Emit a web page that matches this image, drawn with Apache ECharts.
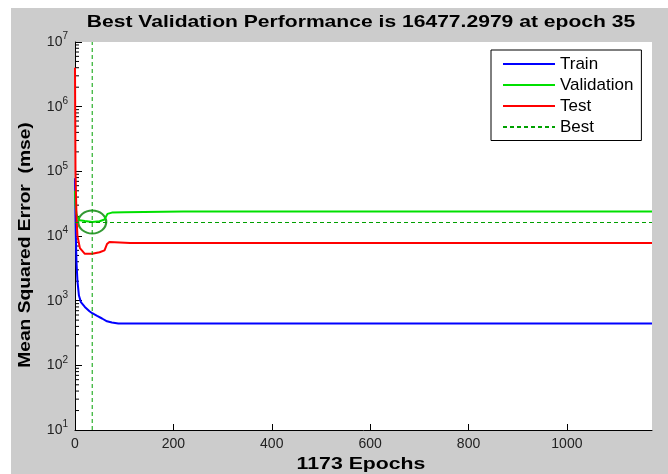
<!DOCTYPE html>
<html>
<head>
<meta charset="utf-8">
<script src="https://cdn.jsdelivr.net/npm/echarts@6/dist/echarts.min.js"></script>
<style>
  html, body { margin: 0; padding: 0; background: #fff; }
  #chart { position: absolute; left: 11px; top: 8px; width: 657px; height: 466px; background: #cccccc; }
</style>
</head>
<body>
<div id="chart"></div>
<script>
// training record
const trainEpochs = [0, 1, 2, 3, 5, 8, 12, 20, 30, 35, 45, 55, 65, 75, 88, 1173];
const trainMse = [78000, 20000, 8000, 4000, 2000, 1200, 950, 800, 680, 640, 580, 530, 480, 460, 445, 442];

const valEpochs = [0, 1, 3, 6, 10, 20, 35, 50, 60, 66, 75, 100, 220, 1173];
const valMse = [50000, 30000, 22000, 19000, 17500, 17000, 16477.2979, 16900, 18000, 22000, 23000, 23200, 24000, 24000];

const testEpochs = [0, 1, 3, 5, 10, 20, 35, 50, 60, 65, 70, 112, 1173];
const testMse = [4000000, 100000, 20000, 10000, 6500, 5300, 5300, 5600, 6000, 7500, 8100, 7800, 7800];

const bestEpoch = 35;
const bestValue = 16477.2979;
const totalEpochs = 1173;

const yMin = 10, yMax = 1e7;
const xTicks = 200;

function pairs(xs, ys) { return xs.map((x, i) => [x, ys[i]]); }

// log minor ticks 2..9 per decade
const minorTicks = [];
for (let e = 1; e < 7; e++) {
  for (let m = 2; m <= 9; m++) minorTicks.push([0, m * Math.pow(10, e)]);
}

const font = "'Liberation Sans', Arial, sans-serif";
const chart = echarts.init(document.getElementById('chart'));

// the original text is wider than Arial, so stretch it a bit
function label(text, x, y, size, sx, rot) {
  return {
    type: 'text', x: x, y: y, rotation: rot || 0, scaleX: sx, silent: true,
    style: { text: text, font: 'bold ' + size + 'px ' + font, fill: '#000',
      align: 'center', verticalAlign: 'middle' }
  };
}

chart.setOption({
  animation: false,
  textStyle: { fontFamily: font },
  grid: { left: 64, top: 34, right: 16, bottom: 44, show: true, backgroundColor: '#fff', borderWidth: 0 },
  graphic: [
    label('Best Validation Performance is ' + bestValue.toFixed(4) + ' at epoch ' + bestEpoch, 350, 14, 17, 1.24),
    label(totalEpochs + ' Epochs', 350, 456, 17, 1.25),
    label('Mean Squared Error  (mse)', 14, 237, 17, 1.13, Math.PI / 2)
  ],
  legend: {
    data: ['Train', 'Validation', 'Test', 'Best'],
    orient: 'vertical', left: 480, top: 42,
    itemWidth: 52, itemHeight: 14, itemGap: 4,
    padding: [5.5, 8, 5, 11],
    borderColor: '#000', borderWidth: 1, backgroundColor: '#fff', borderRadius: 0,
    selectedMode: false,
    itemStyle: { opacity: 0 },
    textStyle: { fontSize: 17, lineHeight: 17, color: '#000', fontFamily: font }
  },
  xAxis: {
    type: 'value', min: 0, max: totalEpochs, interval: xTicks,
    axisLine: { lineStyle: { color: '#000', width: 1 } },
    axisTick: { inside: true, length: 6, lineStyle: { color: '#000' } },
    axisLabel: { fontSize: 14, color: '#222', margin: 7, showMaxLabel: false, formatter: v => String(v) },
    splitLine: { show: false }
  },
  yAxis: {
    type: 'log', logBase: 10, min: yMin, max: yMax,
    axisLine: { lineStyle: { color: '#000', width: 1 } },
    axisTick: { inside: true, length: 7, lineStyle: { color: '#000' } },
    axisLabel: {
      margin: 7, color: '#222',
      formatter: v => '{b|10}{s|' + Math.round(Math.log10(v)) + '}',
      rich: {
        b: { fontSize: 14, color: '#222', fontFamily: font },
        s: { fontSize: 10, color: '#222', fontFamily: font, padding: [0, 0, 11, 0] }
      }
    },
    splitLine: { show: false }
  },
  series: [
    {
      name: 'Train', type: 'line', data: pairs(trainEpochs, trainMse),
      showSymbol: false, symbol: 'none', color: '#0000ff', lineStyle: { width: 2 }
    },
    {
      name: 'Validation', type: 'line', data: pairs(valEpochs, valMse),
      showSymbol: false, symbol: 'none', color: '#00e000', lineStyle: { width: 2 }
    },
    {
      name: 'Test', type: 'line', data: pairs(testEpochs, testMse),
      showSymbol: false, symbol: 'none', color: '#ff0000', lineStyle: { width: 2 }
    },
    {
      name: 'Best', type: 'line', data: [[bestEpoch, yMin], [bestEpoch, yMax]],
      showSymbol: false, symbol: 'none', color: '#00a000',
      lineStyle: { width: 1, type: [4, 3] },
      markLine: {
        silent: true, symbol: 'none', label: { show: false },
        lineStyle: { color: '#00a000', width: 1, type: [4, 3] },
        data: [{ yAxis: bestValue }]
      }
    },
    {
      name: 'circle', type: 'scatter', data: [[bestEpoch, bestValue]],
      symbol: 'circle', symbolSize: [28, 23],
      itemStyle: { color: 'rgba(0,0,0,0)', borderColor: '#008000', borderWidth: 2 },
      silent: true
    },
    {
      name: 'minor', type: 'custom', data: minorTicks, silent: true, clip: false,
      renderItem: (params, api) => {
        const p = api.coord([api.value(0), api.value(1)]);
        return { type: 'line', shape: { x1: p[0], y1: p[1], x2: p[0] + 4, y2: p[1] },
          style: { stroke: '#000', lineWidth: 1 } };
      }
    }
  ]
});
</script>
</body>
</html>
